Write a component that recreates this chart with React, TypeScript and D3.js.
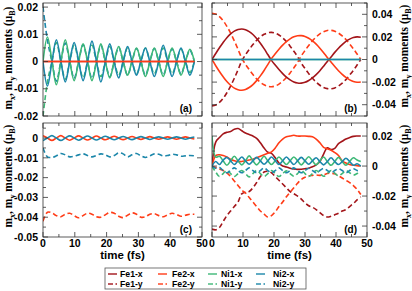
import React from 'react';
import * as d3 from 'd3';

// time grids (fs)
const timeA = [0, 1.4, 2.8, 4.2, 5.6, 7, 8.4, 9.8, 11.2, 12.6, 14, 15.4, 16.8, 18.2, 19.6, 21, 22.4, 23.8, 25.2, 26.6, 28, 29.4, 30.8, 32.2, 33.6, 35, 36.4, 37.8, 39.2, 40.6, 42, 43.4, 44.8, 46.2, 47.6];
const timeB = [0, 1.2, 2.4, 3.6, 4.8, 6, 7.2, 8.4, 9.6, 10.8, 12, 13.2, 14.4, 15.6, 16.8, 18, 19.2, 20.4, 21.6, 22.8, 24, 25.2, 26.4, 27.6, 28.8, 30, 31.2, 32.4, 33.6, 34.8, 36, 37.2, 38.4, 39.6, 40.8, 42, 43.2, 44.4, 45.6, 46.8, 48];

const zerosA = timeA.map(() => 0);
const zerosB = timeB.map(() => 0);

// panel (a)
const aNi1x = [0, 0.009, 0.0003, -0.0085, -0.0002, 0.008, 0.0002, -0.007, 0, 0.0065, 0.0002, -0.007, -0.0002, 0.0065, 0, -0.006, 0.0002, 0.0055, 0, -0.005, 0.0002, 0.005, 0, -0.0055, -0.0002, 0.005, 0, -0.0055, 0.0002, 0.005, 0, -0.005, 0, 0.0045, 0];
const aNi2x = [0, -0.009, -0.0002, 0.008, 0.0002, -0.0075, 0, 0.007, 0.0002, -0.007, 0, 0.0075, 0.0002, -0.0075, 0, 0.0065, -0.0002, -0.006, 0, 0.0055, 0, -0.005, 0.0002, 0.005, 0, -0.0055, 0, 0.006, 0.0002, -0.0055, 0, 0.005, 0, -0.005, 0];
const aNi1y = [-0.02, -0.0075, 0, 0.007, 0, -0.0065, 0, 0.006, 0, -0.006, 0, 0.006, 0, -0.0055, 0, 0.0055, 0, -0.005, 0, 0.005, 0, -0.0045, 0, 0.005, 0, -0.0045, 0, 0.005, 0, -0.0045, 0, 0.0045, 0, -0.004, 0];
const aNi2y = [0.02, 0.0078, 0, -0.0072, 0, 0.0068, 0, -0.0062, 0, 0.0062, 0, -0.0062, 0, 0.0058, 0, -0.0056, 0, 0.0052, 0, -0.005, 0, 0.0048, 0, -0.005, 0, 0.0048, 0, -0.005, 0, 0.0046, 0, -0.0046, 0, 0.0042, 0];

// panel (b)
const bFe1x = [0, 0.0053, 0.0104, 0.0151, 0.0193, 0.0226, 0.0251, 0.0265, 0.027, 0.0264, 0.0247, 0.0221, 0.0186, 0.0144, 0.0096, 0.0044, -0.0008, -0.0049, -0.0089, -0.0125, -0.0156, -0.0181, -0.0199, -0.0208, -0.0209, -0.0202, -0.0186, -0.0163, -0.0134, -0.0099, -0.0059, -0.0017, 0.0023, 0.0063, 0.01, 0.0132, 0.016, 0.018, 0.0194, 0.02, 0.0197];
const bFe2x = [0, -0.0055, -0.0106, -0.0153, -0.0195, -0.0228, -0.0253, -0.0267, -0.0272, -0.0265, -0.0248, -0.0222, -0.0187, -0.0145, -0.0097, -0.0045, 0.0008, 0.005, 0.009, 0.0127, 0.0158, 0.0183, 0.0201, 0.021, 0.0211, 0.0204, 0.0188, 0.0165, 0.0136, 0.01, 0.006, 0.0018, -0.0022, -0.0062, -0.0099, -0.0131, -0.0159, -0.018, -0.0194, -0.0201, -0.0199];
const bFe1y = [-0.041, -0.0403, -0.038, -0.0344, -0.0294, -0.0235, -0.0166, -0.0091, -0.0013, 0.0041, 0.0088, 0.0132, 0.017, 0.0201, 0.0223, 0.0236, 0.024, 0.0233, 0.0217, 0.0191, 0.0158, 0.0118, 0.0073, 0.0025, -0.0033, -0.008, -0.0125, -0.0166, -0.02, -0.0228, -0.0247, -0.0258, -0.0259, -0.0252, -0.0235, -0.021, -0.0178, -0.0138, -0.0096, -0.0049, 0];
const bFe2y = [0.041, 0.0402, 0.0379, 0.0343, 0.0293, 0.0234, 0.0165, 0.009, 0.0012, -0.0042, -0.0089, -0.0133, -0.0171, -0.0202, -0.0224, -0.0237, -0.0241, -0.0234, -0.0218, -0.0192, -0.0159, -0.0119, -0.0074, -0.0026, 0.0032, 0.0079, 0.0124, 0.0165, 0.0199, 0.0227, 0.0246, 0.0257, 0.0258, 0.0251, 0.0234, 0.0209, 0.0177, 0.0137, 0.0095, 0.0048, 0];

// panel (c)
const cFe2x = [0.0012, 0, -0.0012, 0, 0.0012, 0, -0.0011, 0, 0.0011, 0, -0.001, 0, 0.001, 0, -0.0009, 0, 0.0009, 0, -0.0008, 0, 0.0008, 0, -0.0007, 0, 0.0007, 0, -0.0006, 0, 0.0006, 0, -0.0006, 0, 0.0006, 0, -0.0005];
const cNi2x = [-0.0013, 0, 0.0012, 0, -0.0012, 0, 0.0011, 0, -0.0011, 0, 0.001, 0, -0.001, 0, 0.0009, 0, -0.0009, 0, 0.0008, 0, -0.0008, 0, 0.0007, 0, -0.0007, 0, 0.0006, 0, -0.0006, 0, 0.0006, 0, -0.0006, 0, 0.0005];
const cNi2y = [-0.005, -0.0095, -0.0098, -0.009, -0.0078, -0.0085, -0.0095, -0.0092, -0.0085, -0.008, -0.0088, -0.0095, -0.0088, -0.008, -0.0085, -0.0095, -0.0088, -0.0075, -0.008, -0.0095, -0.0085, -0.0078, -0.009, -0.0098, -0.009, -0.008, -0.0082, -0.009, -0.0088, -0.0082, -0.0085, -0.0092, -0.009, -0.0088, -0.009];
const cFe2y = [-0.042, -0.0375, -0.0378, -0.0392, -0.0398, -0.0385, -0.038, -0.0392, -0.0403, -0.0392, -0.038, -0.0385, -0.0398, -0.04, -0.0388, -0.0376, -0.038, -0.0395, -0.0402, -0.039, -0.0378, -0.0385, -0.04, -0.0398, -0.0385, -0.0382, -0.0392, -0.0398, -0.0388, -0.038, -0.0386, -0.0395, -0.039, -0.0385, -0.0385];

// panel (d)
const dFe1x = [0, 0.016, 0.019, 0.0215, 0.0225, 0.023, 0.0245, 0.025, 0.0235, 0.022, 0.021, 0.02, 0.0185, 0.0155, 0.012, 0.0092, 0.0085, 0.0055, 0.002, 0, -0.0006, -0.0015, -0.002, -0.0022, -0.0021, -0.0018, -0.0014, -0.0005, 0.0008, 0.003, 0.008, 0.0122, 0.011, 0.0118, 0.015, 0.0165, 0.018, 0.019, 0.0198, 0.02, 0.02];
const dFe2x = [0, 0.007, 0.0075, 0.007, 0.006, 0.0045, 0.0035, 0.003, 0.003, 0.0035, 0.004, 0.0045, 0.0055, 0.0065, 0.0075, 0.0085, 0.0095, 0.012, 0.0155, 0.018, 0.0195, 0.02, 0.0205, 0.02, 0.02, 0.02, 0.0198, 0.0195, 0.018, 0.0155, 0.0125, 0.0115, 0.0105, 0.009, 0.007, 0.0035, 0.002, 0.001, 0.0005, 0.0003, 0];
const dFe1y = [-0.042, -0.0425, -0.041, -0.037, -0.033, -0.03, -0.027, -0.024, -0.0185, -0.0175, -0.017, -0.0145, -0.011, -0.007, -0.004, -0.0035, -0.0045, -0.007, -0.0095, -0.012, -0.0145, -0.017, -0.0185, -0.02, -0.022, -0.0245, -0.0265, -0.0275, -0.029, -0.031, -0.033, -0.034, -0.0335, -0.0325, -0.0315, -0.03, -0.029, -0.027, -0.025, -0.0225, -0.0205];
const dFe2y = [0, -0.001, -0.002, -0.003, -0.0045, -0.007, -0.01, -0.013, -0.016, -0.018, -0.021, -0.024, -0.027, -0.03, -0.032, -0.034, -0.033, -0.0305, -0.027, -0.024, -0.0205, -0.0175, -0.0145, -0.0115, -0.009, -0.0075, -0.0065, -0.0062, -0.006, -0.0062, -0.0058, -0.005, -0.0048, -0.0052, -0.0065, -0.008, -0.0095, -0.011, -0.013, -0.0155, -0.019];
const dNi1x = [0.02, 0.006, 0.0065, 0.0035, 0.0005, 0.0035, 0.0065, 0.0035, 0.0008, 0.0035, 0.0068, 0.0035, 0.0008, 0.0035, 0.0065, 0.0035, 0.001, 0.0035, 0.006, 0.0035, 0.001, 0.0035, 0.006, 0.0035, 0.0008, 0.0035, 0.0062, 0.0035, 0.0008, 0.0035, 0.006, 0.003, 0.0005, 0.003, 0.0058, 0.003, 0.0005, 0.003, 0.0055, 0.004, 0.003];
const dNi2x = [0, 0.003, 0.001, 0.004, 0.0058, 0.0035, 0.001, 0.0035, 0.006, 0.0035, 0.0012, 0.0035, 0.0058, 0.0035, 0.0012, 0.0035, 0.006, 0.0035, 0.001, 0.0035, 0.006, 0.0035, 0.001, 0.0035, 0.0058, 0.0035, 0.0012, 0.0035, 0.0055, 0.003, 0.0008, 0.003, 0.0055, 0.003, 0.001, 0.003, 0.0052, 0.003, 0.0005, 0.0015, 0];
const dNi1y = [0, -0.004, -0.007, -0.005, -0.003, -0.005, -0.007, -0.005, -0.003, -0.005, -0.0072, -0.005, -0.003, -0.005, -0.007, -0.005, -0.003, -0.005, -0.007, -0.005, -0.0032, -0.005, -0.0068, -0.005, -0.003, -0.005, -0.007, -0.005, -0.003, -0.0048, -0.0068, -0.005, -0.003, -0.0048, -0.0065, -0.005, -0.003, -0.0045, -0.006, -0.005, -0.004];
const dNi2y = [0, -0.0015, -0.001, -0.003, -0.0045, -0.003, -0.0012, -0.003, -0.0045, -0.003, -0.0012, -0.003, -0.0045, -0.003, -0.0012, -0.003, -0.0045, -0.003, -0.0012, -0.003, -0.0045, -0.003, -0.0012, -0.003, -0.0045, -0.003, -0.0015, -0.003, -0.0045, -0.003, -0.0015, -0.003, -0.0045, -0.003, -0.0018, -0.003, -0.0045, -0.003, -0.0018, -0.003, -0.0035];

// ticks
const xTicks = [0, 10, 20, 30, 40, 50];
const yTicksA = [-0.02, -0.01, 0, 0.01, 0.02];
const yTicksB = [-0.04, -0.02, 0, 0.02, 0.04];
const yTicksC = [-0.05, -0.04, -0.03, -0.02, -0.01, 0];
const yTicksD = [-0.04, -0.02, 0, 0.02];

const legendNames = ['Fe1', 'Fe2', 'Ni1', 'Ni2'];

const C = { fe1: '#a3151a', fe2: '#ff3c17', ni1: '#3eb877', ni2: '#1c87aa' };
const legendColors = [C.fe1, C.fe2, C.ni1, C.ni2];

const sans = '"Liberation Sans", Arial, sans-serif';
const serif = '"Liberation Serif", "Times New Roman", serif';

type S = { t: number[]; v: number[]; color: string; dash?: boolean };

const panels = [
  {
    key: 'a', left: 43, right: 202, top: 3, bottom: 116, domain: [-0.02, 0.0215], ticks: yTicksA, minor: 0.005,
    side: 'left', xLab: false, tag: '(a)', labelY: 58,
    series: [
      { t: timeA, v: aNi1y, color: C.ni1, dash: true },
      { t: timeA, v: aNi2y, color: C.ni2, dash: true },
      { t: timeA, v: aNi1x, color: C.ni1 },
      { t: timeA, v: aNi2x, color: C.ni2 },
      { t: timeA, v: zerosA, color: C.fe1 },
      { t: timeA, v: zerosA, color: C.fe2 },
    ] as S[],
  },
  {
    key: 'b', left: 212, right: 367, top: 3, bottom: 116, domain: [-0.05, 0.05], ticks: yTicksB, minor: 0.01,
    side: 'right', xLab: false, tag: '(b)', labelY: 56,
    series: [
      { t: timeB, v: bFe1y, color: C.fe1, dash: true },
      { t: timeB, v: bFe2y, color: C.fe2, dash: true },
      { t: timeB, v: bFe1x, color: C.fe1 },
      { t: timeB, v: bFe2x, color: C.fe2 },
      { t: timeB, v: zerosB, color: C.ni1 },
      { t: timeB, v: zerosB, color: C.ni2 },
    ] as S[],
  },
  {
    key: 'c', left: 43, right: 202, top: 123, bottom: 237, domain: [-0.05, 0.0076], ticks: yTicksC, minor: 0.005,
    side: 'left', xLab: true, tag: '(c)', labelY: 176,
    series: [
      { t: timeA, v: cFe2y, color: C.fe2, dash: true },
      { t: timeA, v: cNi2y, color: C.ni2, dash: true },
      { t: timeA, v: cFe2x, color: C.fe2 },
      { t: timeA, v: cNi2x, color: C.ni2 },
    ] as S[],
  },
  {
    key: 'd', left: 212, right: 367, top: 123, bottom: 237, domain: [-0.0473, 0.0287], ticks: yTicksD, minor: 0.01,
    side: 'right', xLab: true, tag: '(d)', labelY: 176,
    series: [
      { t: timeB, v: dFe1y, color: C.fe1, dash: true },
      { t: timeB, v: dFe2y, color: C.fe2, dash: true },
      { t: timeB, v: dFe1x, color: C.fe1 },
      { t: timeB, v: dFe2x, color: C.fe2 },
      { t: timeB, v: dNi1y, color: C.ni1, dash: true },
      { t: timeB, v: dNi2y, color: C.ni2, dash: true },
      { t: timeB, v: dNi1x, color: C.ni1 },
      { t: timeB, v: dNi2x, color: C.ni2 },
    ] as S[],
  },
];

const fmt = (v: number) => (Math.abs(v) < 1e-9 ? '0' : String(+v.toFixed(2)));

const YLabel = ({ x, y }: { x: number; y: number }) => (
  <text transform={`translate(${x},${y}) rotate(-90)`} textAnchor="middle" fontFamily={serif} fontWeight="bold" fontSize={11.5} fill="#000">
    m<tspan fontSize={8} dy={3}>x</tspan>
    <tspan dy={-3}>, m</tspan>
    <tspan fontSize={8} dy={3}>y</tspan>
    <tspan dy={-3}> moments (μ</tspan>
    <tspan fontSize={8} dy={3}>B</tspan>
    <tspan dy={-3}>)</tspan>
  </text>
);

const Panel = ({ p }: { p: (typeof panels)[number] }) => {
  const x = d3.scaleLinear().domain([0, 50]).range([p.left, p.right]);
  const y = d3.scaleLinear().domain(p.domain).range([p.bottom, p.top]);
  const xMinor = d3.range(0, 50.01, 5);
  const yMinor = d3.range(Math.ceil(p.domain[0] / p.minor - 1e-6) * p.minor, p.domain[1] + 1e-9, p.minor);
  const isMajorY = (v: number) => p.ticks.some(t => Math.abs(t - v) < 1e-6);
  const clipId = 'clip-' + p.key;
  return (
    <g>
      <defs>
        <clipPath id={clipId}>
          <rect x={p.left} y={p.top} width={p.right - p.left} height={p.bottom - p.top} />
        </clipPath>
      </defs>
      <g clipPath={`url(#${clipId})`}>
        {p.series.map((s, i) => {
          const line = d3.line<number>()
            .x((_, j) => x(s.t[j]))
            .y(d => y(d))
            .curve(d3.curveCatmullRom.alpha(0.5));
          return (
            <path key={i} d={line(s.v) || ''} fill="none" stroke={s.color} strokeWidth={1.6}
              strokeDasharray={s.dash ? '5,3' : undefined} />
          );
        })}
      </g>
      <rect x={p.left} y={p.top} width={p.right - p.left} height={p.bottom - p.top} fill="none" stroke="#333" strokeWidth={0.8} />
      {xMinor.map(t => {
        const len = t % 10 === 0 ? 5 : 3;
        return (
          <g key={'xt' + t} stroke="#333" strokeWidth={0.8}>
            <line x1={x(t)} x2={x(t)} y1={p.bottom} y2={p.bottom - len} />
            <line x1={x(t)} x2={x(t)} y1={p.top} y2={p.top + len} />
          </g>
        );
      })}
      {yMinor.map(v => {
        const len = isMajorY(v) ? 5 : 3;
        return (
          <g key={'yt' + v} stroke="#333" strokeWidth={0.8}>
            <line x1={p.left} x2={p.left + len} y1={y(v)} y2={y(v)} />
            <line x1={p.right} x2={p.right - len} y1={y(v)} y2={y(v)} />
          </g>
        );
      })}
      {p.ticks.map(v => (
        <text key={'yl' + v}
          x={p.side === 'left' ? p.left - 5 : p.right + 5}
          y={y(v) + 3.7}
          textAnchor={p.side === 'left' ? 'end' : 'start'}
          fontFamily={sans} fontWeight="bold" fontSize={10.5} fill="#000">
          {fmt(v)}
        </text>
      ))}
      {p.xLab && xTicks.map(t => (
        <text key={'xl' + t} x={x(t)} y={p.bottom + 10} textAnchor="middle"
          fontFamily={sans} fontWeight="bold" fontSize={10.5} fill="#000">
          {t}
        </text>
      ))}
      {p.xLab && (
        <text x={(p.left + p.right) / 2} y={p.bottom + 22} textAnchor="middle"
          fontFamily={sans} fontWeight="bold" fontSize={11.5} fill="#000">
          time (fs)
        </text>
      )}
      <text x={p.right - 10} y={p.bottom - 4} textAnchor="end" fontFamily={sans} fontWeight="bold" fontSize={10} fill="#000">
        {p.tag}
      </text>
      <YLabel x={p.side === 'left' ? 12 : 408} y={p.labelY} />
    </g>
  );
};

const Legend = () => {
  const colX = [108, 158, 208, 256];
  const txtX = [120, 172, 221, 273];
  return (
    <g>
      <rect x={105} y={268} width={201} height={21} fill="#fff" stroke="#555" strokeWidth={0.8} />
      {legendNames.map((n, i) => (
        <g key={n}>
          <line x1={colX[i]} x2={colX[i] + 9} y1={274} y2={274} stroke={legendColors[i]} strokeWidth={1.4} />
          <text x={txtX[i]} y={277} fontFamily={sans} fontWeight="bold" fontSize={8.7} fill="#000">{n + '-x'}</text>
          <line x1={colX[i]} x2={colX[i] + 5} y1={284} y2={284} stroke={legendColors[i]} strokeWidth={1.4} />
          <line x1={colX[i] + 7.5} x2={colX[i] + 9} y1={284} y2={284} stroke={legendColors[i]} strokeWidth={1.4} />
          <text x={txtX[i]} y={287} fontFamily={sans} fontWeight="bold" fontSize={8.7} fill="#000">{n + '-y'}</text>
        </g>
      ))}
    </g>
  );
};

export default function App() {
  return (
    <svg width={412} height={291} style={{ display: 'block', position: 'absolute', left: 0, top: 0, background: '#fff' }}>
      {panels.map(p => <Panel key={p.key} p={p} />)}
      <Legend />
    </svg>
  );
}
